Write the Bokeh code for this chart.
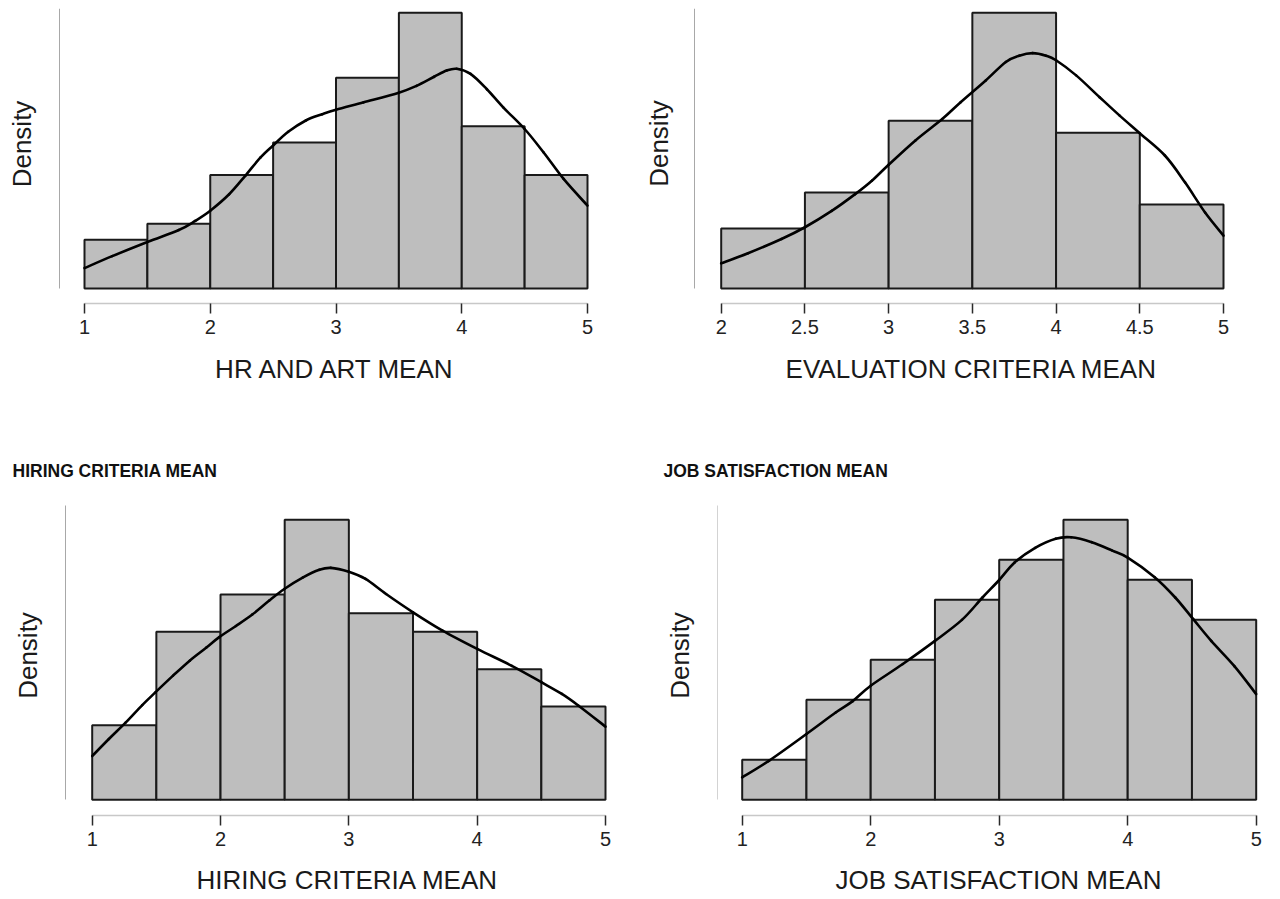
from bokeh.plotting import figure
from bokeh.layouts import column, row
from bokeh.models import FixedTicker, Title
from bokeh.embed import file_html
from bokeh.resources import INLINE

BIN_W = 0.5

# ---------------- data ----------------
hr_edges = [1.0, 1.5, 2.0, 2.5, 3.0, 3.5, 4.0, 4.5, 5.0]
hr_counts = [3, 4, 7, 9, 13, 17, 10, 7]
hr_kde_x = [1.0, 1.22, 1.5, 1.75, 1.88, 2.0, 2.15, 2.28, 2.4, 2.5, 2.62, 2.76, 2.89, 3.0,
            3.22, 3.5, 3.64, 3.78, 3.88, 3.96, 4.07, 4.2, 4.33, 4.5, 4.65, 4.81, 5.0]
hr_kde_y = [0.036, 0.057, 0.082, 0.103, 0.119, 0.137, 0.166, 0.199, 0.231, 0.252, 0.276, 0.296,
            0.307, 0.315, 0.328, 0.345, 0.357, 0.373, 0.384, 0.387, 0.378, 0.351, 0.319, 0.281,
            0.240, 0.193, 0.146]
hr_ticks = [1, 2, 3, 4, 5]
hr_tick_labels = ["1", "2", "3", "4", "5"]

ev_edges = [2.0, 2.5, 3.0, 3.5, 4.0, 4.5, 5.0]
ev_counts = [5, 8, 14, 23, 13, 7]
ev_kde_x = [2.0, 2.16, 2.36, 2.5, 2.66, 2.8, 2.9, 3.0, 3.16, 3.32, 3.43, 3.58, 3.7, 3.78,
            3.86, 3.94, 4.0, 4.12, 4.26, 4.38, 4.5, 4.65, 4.77, 4.89, 5.0]
ev_kde_y = [0.060, 0.084, 0.118, 0.146, 0.185, 0.225, 0.257, 0.295, 0.353, 0.404, 0.444,
            0.496, 0.540, 0.555, 0.561, 0.555, 0.544, 0.508, 0.456, 0.412, 0.370, 0.317, 0.253,
            0.181, 0.126]
ev_ticks = [2, 2.5, 3, 3.5, 4, 4.5, 5]
ev_tick_labels = ["2", "2.5", "3", "3.5", "4", "4.5", "5"]

hc_edges = [1.0, 1.5, 2.0, 2.5, 3.0, 3.5, 4.0, 4.5, 5.0]
hc_counts = [4, 9, 11, 15, 10, 9, 7, 5]
hc_kde_x = [1.0, 1.13, 1.26, 1.39, 1.49, 1.63, 1.76, 1.89, 1.99, 2.12, 2.25, 2.38, 2.5, 2.64,
            2.77, 2.86, 3.0, 3.13, 3.29, 3.5, 3.73, 4.0, 4.27, 4.5, 4.66, 4.79, 5.0]
hc_kde_y = [0.067, 0.093, 0.118, 0.145, 0.164, 0.190, 0.213, 0.233, 0.249, 0.266, 0.284, 0.305,
            0.323, 0.340, 0.352, 0.355, 0.349, 0.338, 0.315, 0.287, 0.259, 0.231, 0.205, 0.180,
            0.162, 0.144, 0.112]
hc_ticks = [1, 2, 3, 4, 5]
hc_tick_labels = ["1", "2", "3", "4", "5"]

js_edges = [1.0, 1.5, 2.0, 2.5, 3.0, 3.5, 4.0, 4.5, 5.0]
js_counts = [2, 5, 7, 10, 12, 14, 11, 9]
js_kde_x = [1.0, 1.21, 1.5, 1.73, 1.86, 2.0, 2.25, 2.5, 2.71, 2.87, 3.0, 3.12, 3.28, 3.44, 3.56,
            3.72, 3.88, 4.0, 4.21, 4.37, 4.51, 4.65, 4.83, 5.0]
js_kde_y = [0.032, 0.056, 0.094, 0.125, 0.141, 0.163, 0.194, 0.227, 0.257, 0.289, 0.314, 0.339,
            0.360, 0.373, 0.375, 0.368, 0.356, 0.346, 0.318, 0.289, 0.258, 0.227, 0.191, 0.151]
js_ticks = [1, 2, 3, 4, 5]
js_tick_labels = ["1", "2", "3", "4", "5"]

FONT = "Liberation Sans"


def smooth_segments(xs, ys):
    """Catmull-Rom control points so the read curve points are joined by smooth Beziers."""
    n = len(xs)
    out = {k: [] for k in ("x0", "y0", "x1", "y1", "cx0", "cy0", "cx1", "cy1")}
    for i in range(n - 1):
        a = i - 1 if i > 0 else i
        d = i + 2 if i + 2 < n else i + 1
        out["x0"].append(xs[i]); out["y0"].append(ys[i])
        out["x1"].append(xs[i + 1]); out["y1"].append(ys[i + 1])
        out["cx0"].append(xs[i] + (xs[i + 1] - xs[a]) / 6)
        out["cy0"].append(ys[i] + (ys[i + 1] - ys[a]) / 6)
        out["cx1"].append(xs[i + 1] - (xs[d] - xs[i]) / 6)
        out["cy1"].append(ys[i + 1] - (ys[d] - ys[i]) / 6)
    return out


def make_panel(edges, counts, kx, ky, ticks, tick_labels, xlabel, title, g):
    W, H = g["W"], g["H"]
    fl, ft, fb, fr = g["fl"], g["ft"], g["fb"], g["fr"]
    n = sum(counts)
    dens = [c / (n * BIN_W) for c in counts]
    sx = (g["xhi"] - g["xlo"]) / (edges[-1] - edges[0])
    x_start = edges[0] - (g["xlo"] - fl) / sx
    x_end = edges[-1] + (fr - g["xhi"]) / sx
    x_axis_loc = edges[0] - (g["xlo"] - g["yline_x"]) / sx
    dmax = max(dens)
    sy = (g["base"] - g["top"]) / dmax
    y_end = dmax + (g["top"] - ft) / sy
    y_start = -(fb - g["base"]) / sy
    y_line_top = dmax + (g["top"] - g["yline_top"]) / sy

    kw = dict(width=W, height=H, x_range=(x_start, x_end), y_range=(y_start, y_end),
              min_border_left=fl, min_border_right=W - fr, min_border_top=ft,
              min_border_bottom=H - fb, output_backend="svg", toolbar_location=None,
              tools="")
    if title is None:
        p = figure(title_location=None, **kw)
    else:
        p = figure(title=title, **kw)
        p.title.align = "left"
        p.title.offset = g["title_x"] - fl
        p.title.text_font = FONT
        p.title.text_font_size = "17.5px"
        p.title.text_font_style = "bold"
        p.title.text_color = "#111111"
        p.title.standoff = 10

    p.quad(left=edges[:-1], right=edges[1:], bottom=0, top=dens,
           fill_color="#bebebe", line_color="#1a1a1a", line_width=2)
    seg = smooth_segments(kx, ky)
    p.bezier(x0=seg["x0"], y0=seg["y0"], x1=seg["x1"], y1=seg["y1"],
             cx0=seg["cx0"], cy0=seg["cy0"], cx1=seg["cx1"], cy1=seg["cy1"],
             line_color="#000000", line_width=2.6, line_cap="round")

    p.xgrid.visible = False
    p.ygrid.visible = False
    p.outline_line_color = None
    p.background_fill_color = "white"
    p.border_fill_color = "white"

    xa = p.xaxis[0]
    xa.ticker = FixedTicker(ticks=ticks)
    xa.major_label_overrides = {t: l for t, l in zip(ticks, tick_labels)}
    xa.bounds = (edges[0], edges[-1])
    xa.axis_line_color = "#c8c8c8"
    xa.axis_line_width = 1.5
    xa.major_tick_line_color = "#2a2a2a"
    xa.major_tick_line_width = 1.5
    xa.major_tick_out = 10
    xa.major_tick_in = 0
    xa.minor_tick_line_color = None
    xa.major_label_text_font = FONT
    xa.major_label_text_font_size = "20px"
    xa.major_label_text_color = "#222222"
    xa.major_label_standoff = g["tick_sd"]
    xa.axis_label = xlabel
    xa.axis_label_text_font = FONT
    xa.axis_label_text_font_size = "26px"
    xa.axis_label_text_font_style = "normal"
    xa.axis_label_text_color = "#1a1a1a"
    xa.axis_label_standoff = g["lab_sd"]

    ya = p.yaxis[0]
    ya.fixed_location = x_axis_loc
    ya.ticker = FixedTicker(ticks=[])
    ya.bounds = (0, y_line_top)
    ya.axis_line_color = "#a8a8a8"
    ya.axis_line_width = 1
    ya.major_tick_out = 0
    ya.major_tick_in = 0
    ya.minor_tick_line_color = None
    ya.major_label_text_font_size = "0px"
    ya.major_label_standoff = 0

    # "Density" as a rotated side title
    cx, cy = g["dens_cx"], g["dens_cy"]
    sd = 2 * (fl - cx - 14.8)
    text_len = 3.334 * 26
    dens_title = Title(text="Density", align="left", offset=fb - cy - text_len / 2,
                       standoff=sd, text_font=FONT, text_font_size="26px",
                       text_font_style="normal", text_color="#1a1a1a")
    p.add_layout(dens_title, "left")
    return p


g1 = dict(W=640, H=450, fl=42, ft=8, fb=303, fr=628, xlo=84, xhi=587, base=288, top=12.3,
          yline_x=59, yline_top=8, tick_sd=6, lab_sd=17, dens_cx=22, dens_cy=143.5)
g2 = dict(W=640, H=450, fl=36, ft=8, fb=303, fr=626, xlo=80.7, xhi=583, base=288, top=12.3,
          yline_x=54, yline_top=8, tick_sd=6, lab_sd=17, dens_cx=19, dens_cy=143)
g3 = dict(W=640, H=449, fl=54, ft=35, fb=365, fr=640, xlo=91.7, xhi=605, base=349.3,
          top=69.3, yline_x=65, yline_top=55, tick_sd=6, lab_sd=16, dens_cx=28, dens_cy=205,
          title_x=12)
g4 = dict(W=640, H=449, fl=77, ft=35, fb=365, fr=639, xlo=101.7, xhi=615.7, base=349.3,
          top=69.3, yline_x=77, yline_top=55, tick_sd=6, lab_sd=16, dens_cx=40, dens_cy=205,
          title_x=23)

p1 = make_panel(hr_edges, hr_counts, hr_kde_x, hr_kde_y, hr_ticks, hr_tick_labels,
                "HR AND ART MEAN", None, g1)
p2 = make_panel(ev_edges, ev_counts, ev_kde_x, ev_kde_y, ev_ticks, ev_tick_labels,
                "EVALUATION CRITERIA MEAN", None, g2)
p3 = make_panel(hc_edges, hc_counts, hc_kde_x, hc_kde_y, hc_ticks, hc_tick_labels,
                "HIRING CRITERIA MEAN", "HIRING CRITERIA MEAN", g3)
p4 = make_panel(js_edges, js_counts, js_kde_x, js_kde_y, js_ticks, js_tick_labels,
                "JOB SATISFACTION MEAN", "JOB SATISFACTION MEAN", g4)

layout = column(row(p1, p2), row(p3, p4))
open("out.html", "w").write(file_html(layout, INLINE))
